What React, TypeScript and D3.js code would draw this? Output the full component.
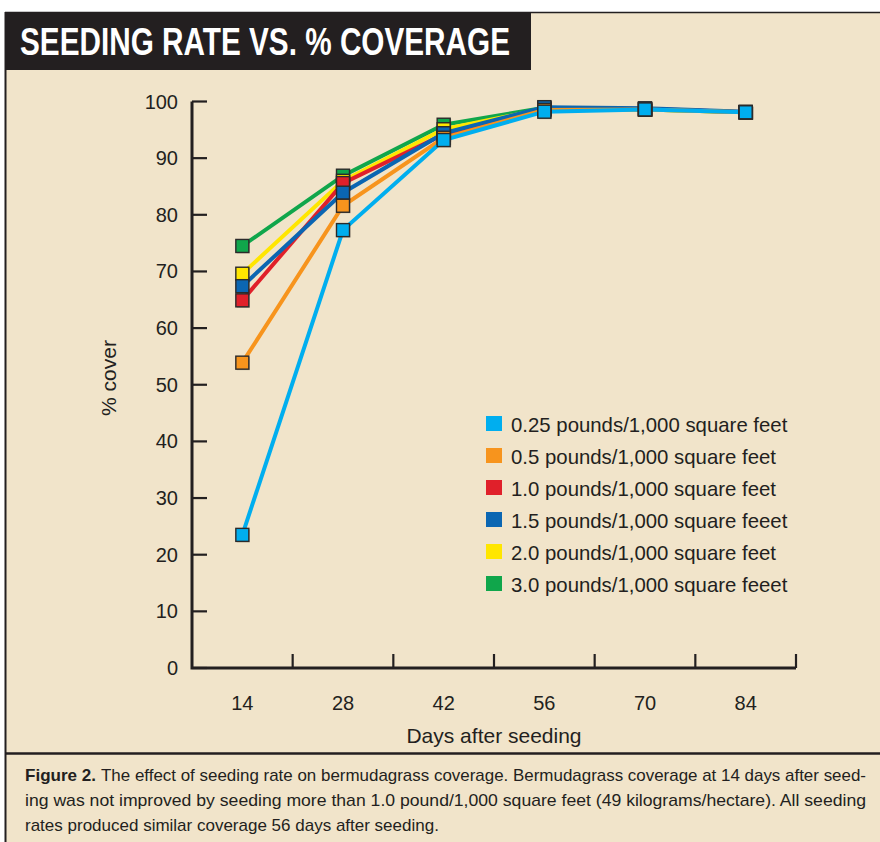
import { useEffect, useRef } from "react";
import * as d3 from "d3";

// days after seeding (x categories)
const days = ["14", "28", "42", "56", "70", "84"];

// % cover per seeding rate
const cover025 = [23.5, 77.3, 93.2, 98.2, 98.6, 98.1];
const cover05 = [53.9, 81.6, 93.6, 98.5, 98.6, 98.1];
const cover10 = [64.9, 85.6, 94.2, 98.8, 98.7, 98.1];
const cover15 = [67.4, 83.9, 94.4, 99.0, 98.8, 98.2];
const cover20 = [69.6, 86.0, 95.1, 98.7, 98.6, 98.1];
const cover30 = [74.5, 86.9, 95.9, 98.9, 98.6, 98.1];

const rateLabels = [
  "0.25 pounds/1,000 square feet",
  "0.5 pounds/1,000 square feet",
  "1.0 pounds/1,000 square feet",
  "1.5 pounds/1,000 square feeet",
  "2.0 pounds/1,000 square feet",
  "3.0 pounds/1,000 square feeet",
];
const rateColors = ["#00aeef", "#f7941d", "#e0202a", "#0b66b2", "#ffe600", "#10a64b"];
const rateValues = [cover025, cover05, cover10, cover15, cover20, cover30];

const yTicks = [0, 10, 20, 30, 40, 50, 60, 70, 80, 90, 100];

const captionLines = [
  "The effect of seeding rate on bermudagrass coverage. Bermudagrass coverage at 14 days after seed-",
  "ing was not improved by seeding more than 1.0 pound/1,000 square feet (49 kilograms/hectare). All seeding",
  "rates produced similar coverage 56 days after seeding.",
];

const ink = "#231f20";
const paper = "#f1e4ca";
const narrow = "'Liberation Sans Narrow', 'Arial Narrow', 'Liberation Sans', sans-serif";

export default function App() {
  const ref = useRef<SVGSVGElement>(null);

  useEffect(() => {
    const svg = d3.select(ref.current);
    svg.selectAll("*").remove();

    // panel + frame
    svg.append("rect").attr("width", 880).attr("height", 842).attr("fill", "#fff");
    svg.append("rect").attr("x", 5).attr("y", 12).attr("width", 875).attr("height", 830).attr("fill", paper);
    svg.append("line").attr("x1", 5).attr("x2", 880).attr("y1", 12.5).attr("y2", 12.5).attr("stroke", ink).attr("stroke-width", 1.5);
    svg.append("line").attr("x1", 5.5).attr("x2", 5.5).attr("y1", 12).attr("y2", 842).attr("stroke", ink).attr("stroke-width", 2);
    svg.append("line").attr("x1", 5).attr("x2", 880).attr("y1", 753.5).attr("y2", 753.5).attr("stroke", ink).attr("stroke-width", 2.5);

    // title block
    svg.append("rect").attr("x", 5).attr("y", 12).attr("width", 526).attr("height", 58).attr("fill", ink);
    svg
      .append("text")
      .attr("x", 20)
      .attr("y", 55)
      .attr("fill", "#fff")
      .attr("textLength", 490)
      .attr("lengthAdjust", "spacingAndGlyphs")
      .style("font-family", narrow)
      .style("font-weight", "700")
      .style("font-size", "38px")
      .text("SEEDING RATE VS. % COVERAGE");

    const x = d3.scaleBand().domain(days).range([192, 796]);
    const y = d3.scaleLinear().domain([0, 100]).range([668, 101.5]);
    const cx = (d: string) => (x(d) ?? 0) + x.bandwidth() / 2;

    const chart = svg.append("g");

    // y ticks (inward) and labels
    chart
      .selectAll("line.ytick")
      .data(yTicks)
      .join("line")
      .attr("class", "ytick")
      .attr("x1", 192)
      .attr("x2", 207)
      .attr("y1", (d) => y(d))
      .attr("y2", (d) => y(d))
      .attr("stroke", ink)
      .attr("stroke-width", 2.2);
    chart
      .selectAll("text.ylab")
      .data(yTicks)
      .join("text")
      .attr("class", "ylab")
      .attr("x", 178)
      .attr("y", (d) => y(d) + 7)
      .attr("text-anchor", "end")
      .attr("fill", ink)
      .style("font-family", narrow)
      .style("font-size", "20px")
      .text((d) => d);

    // x ticks at category boundaries
    const bounds = days.slice(1).map((d) => x(d) ?? 0).concat([x.range()[1]]);
    chart
      .selectAll("line.xtick")
      .data(bounds)
      .join("line")
      .attr("class", "xtick")
      .attr("x1", (d) => d)
      .attr("x2", (d) => d)
      .attr("y1", 668)
      .attr("y2", 654)
      .attr("stroke", ink)
      .attr("stroke-width", 2.2);
    chart
      .selectAll("text.xlab")
      .data(days)
      .join("text")
      .attr("class", "xlab")
      .attr("x", (d) => cx(d))
      .attr("y", 710)
      .attr("text-anchor", "middle")
      .attr("fill", ink)
      .style("font-family", narrow)
      .style("font-size", "20px")
      .text((d) => d);

    // axis lines
    chart
      .append("path")
      .attr("d", `M192,${y(100)}V668H796`)
      .attr("fill", "none")
      .attr("stroke", ink)
      .attr("stroke-width", 3);

    chart
      .append("text")
      .attr("x", 494)
      .attr("y", 743)
      .attr("text-anchor", "middle")
      .attr("fill", ink)
      .style("font-family", narrow)
      .style("font-size", "21px")
      .text("Days after seeding");
    chart
      .append("text")
      .attr("transform", `translate(116,378) rotate(-90)`)
      .attr("text-anchor", "middle")
      .attr("fill", ink)
      .style("font-family", narrow)
      .style("font-size", "21px")
      .text("% cover");

    // series: drawn bottom to top
    const order = [5, 4, 2, 3, 1, 0];
    const line = d3
      .line<number>()
      .x((_, i) => cx(days[i]))
      .y((v) => y(v));

    chart
      .selectAll("path.series")
      .data(order)
      .join("path")
      .attr("class", "series")
      .attr("d", (k) => line(rateValues[k]))
      .attr("fill", "none")
      .attr("stroke", (k) => rateColors[k])
      .attr("stroke-width", 4);

    const s = 13;
    order.forEach((k) => {
      const g = chart.append("g");
      g.selectAll("rect.shadow")
        .data(rateValues[k])
        .join("rect")
        .attr("class", "shadow")
        .attr("x", (_, i) => cx(days[i]) - s / 2 + 1)
        .attr("y", (v) => y(v) - s / 2 + 1)
        .attr("width", s)
        .attr("height", s)
        .attr("fill", "rgba(60,50,40,0.3)");
      g.selectAll("rect.mark")
        .data(rateValues[k])
        .join("rect")
        .attr("class", "mark")
        .attr("x", (_, i) => cx(days[i]) - s / 2)
        .attr("y", (v) => y(v) - s / 2)
        .attr("width", s)
        .attr("height", s)
        .attr("fill", rateColors[k])
        .attr("stroke", "#2b2a2a")
        .attr("stroke-width", 1.4);
    });

    // legend
    const legend = svg
      .append("g")
      .selectAll("g")
      .data(rateLabels)
      .join("g")
      .attr("transform", (_, i) => `translate(486,${424 + i * 32})`);
    legend
      .append("rect")
      .attr("x", 0)
      .attr("y", -8)
      .attr("width", 16)
      .attr("height", 15)
      .attr("fill", (_, i) => rateColors[i]);
    legend
      .append("text")
      .attr("x", 25)
      .attr("y", 7.5)
      .attr("fill", ink)
      .style("font-family", narrow)
      .style("font-size", "21px")
      .text((d) => d)
      .each(function () {
        const w = (this as SVGTextElement).getComputedTextLength();
        d3.select(this).attr("textLength", w * 0.97).attr("lengthAdjust", "spacingAndGlyphs");
      });

    // caption
    const cap = svg
      .append("g")
      .style("font-family", narrow)
      .style("font-size", "17px")
      .attr("fill", ink);
    cap
      .append("text")
      .attr("x", 25)
      .attr("y", 781)
      .attr("textLength", 71)
      .attr("lengthAdjust", "spacingAndGlyphs")
      .style("font-weight", "700")
      .text("Figure 2.");
    const widths = [765, 841, null];
    const starts = [101, 25, 25];
    captionLines.forEach((t, i) => {
      const el = cap
        .append("text")
        .attr("x", starts[i])
        .attr("y", 781 + i * 25)
        .text(t);
      if (widths[i]) el.attr("textLength", widths[i]).attr("lengthAdjust", "spacingAndGlyphs");
    });
  }, []);

  return (
    <svg
      ref={ref}
      width={880}
      height={842}
      style={{ position: "absolute", left: 0, top: 0, display: "block" }}
    />
  );
}
